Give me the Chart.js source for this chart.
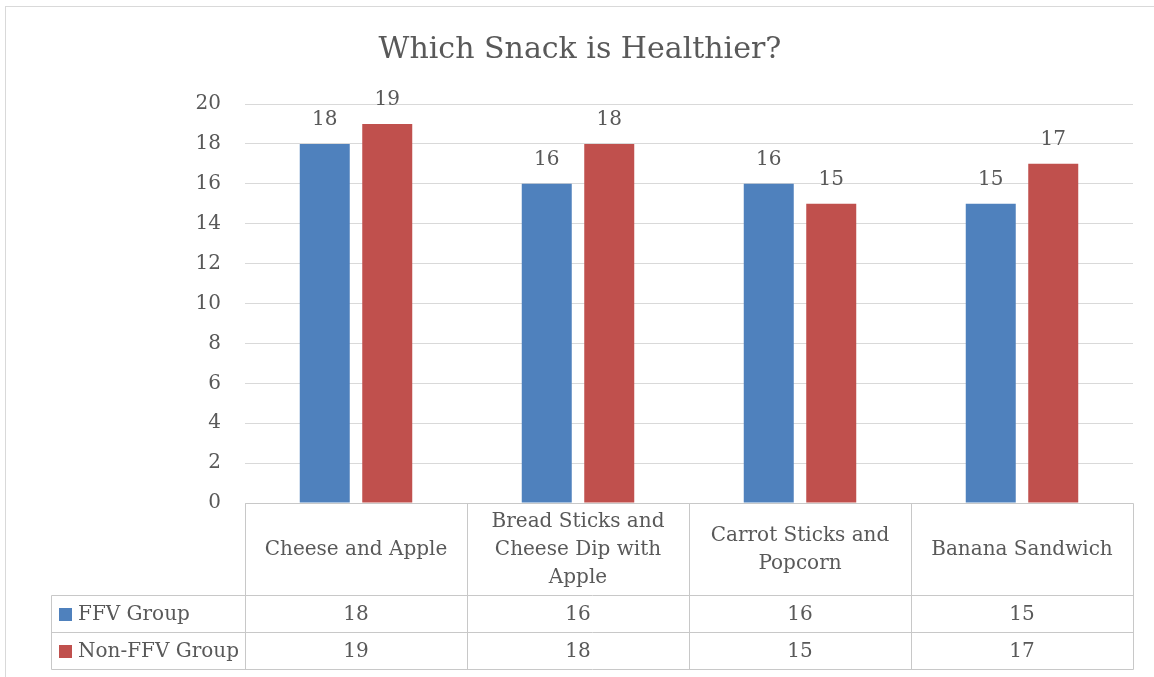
<!DOCTYPE html>
<html>
<head>
<meta charset="utf-8">
<script src="https://cdn.jsdelivr.net/npm/chart.js@4/dist/chart.umd.min.js"></script>
<style>
  html, body { margin: 0; padding: 0; background: #fff; }
  #wrap { width: 1154px; height: 677px; }
</style>
</head>
<body>
<div id="wrap"><canvas id="c" width="1154" height="677"></canvas></div>
<script>
const chartTitle = 'Which Snack is Healthier?';
const categories = ['Cheese and Apple', 'Bread Sticks and Cheese Dip with Apple', 'Carrot Sticks and Popcorn', 'Banana Sandwich'];
const seriesNames = ['FFV Group', 'Non-FFV Group'];
const ffvValues = [18, 16, 16, 15];
const nonFfvValues = [19, 18, 15, 17];
const yTicks = [0, 2, 4, 6, 8, 10, 12, 14, 16, 18, 20];
const seriesColors = ['#4F81BD', '#C0504D'];

const FONT = "'DejaVu Serif', 'Liberation Serif', serif";
const TEXT = '#595959';
const GRID = '#D9D9D9';
const TABLE_LINE = '#C8C8C8';

function wrapText(ctx, text, maxW) {
  const words = text.split(' ');
  const lines = [];
  let cur = '';
  for (const w of words) {
    const t = cur ? cur + ' ' + w : w;
    if (ctx.measureText(t).width > maxW && cur) { lines.push(cur); cur = w; }
    else cur = t;
  }
  if (cur) lines.push(cur);
  return lines;
}

const framePlugin = {
  id: 'frame',
  beforeDraw(chart) {
    const ctx = chart.ctx;
    ctx.save();
    ctx.fillStyle = '#fff';
    ctx.fillRect(0, 0, chart.width, chart.height);
    ctx.strokeStyle = GRID;
    ctx.lineWidth = 1;
    ctx.strokeRect(5.5, 6.5, chart.width + 10, chart.height + 10);
    // title
    ctx.font = '30px ' + FONT;
    ctx.fillStyle = TEXT;
    ctx.textAlign = 'center';
    ctx.textBaseline = 'middle';
    ctx.fillText(chartTitle, 580, 50);
    ctx.restore();
  }
};

const valueLabels = {
  id: 'valueLabels',
  afterDatasetsDraw(chart) {
    const ctx = chart.ctx;
    ctx.save();
    ctx.font = '20px ' + FONT;
    ctx.fillStyle = TEXT;
    ctx.textAlign = 'center';
    ctx.textBaseline = 'middle';
    chart.data.datasets.forEach((ds, di) => {
      chart.getDatasetMeta(di).data.forEach((bar, i) => {
        ctx.fillText(String(ds.data[i]), bar.x, bar.y - 24);
      });
    });
    ctx.restore();
  }
};

const dataTable = {
  id: 'dataTable',
  afterDraw(chart) {
    const ctx = chart.ctx;
    const area = chart.chartArea;
    const xs = chart.scales.x;
    const n = categories.length;
    const colW = (area.right - area.left) / n;
    const top = area.bottom;
    const headH = 92, rowH = 37;
    const legendLeft = 51;
    const row1 = top + headH, row2 = row1 + rowH, row3 = row2 + rowH;
    ctx.save();
    ctx.strokeStyle = TABLE_LINE;
    ctx.lineWidth = 1;
    const line = (x1, y1, x2, y2) => {
      ctx.beginPath();
      ctx.moveTo(Math.round(x1) + 0.5, Math.round(y1) + 0.5);
      ctx.lineTo(Math.round(x2) + 0.5, Math.round(y2) + 0.5);
      ctx.stroke();
    };
    line(area.left, top, area.right, top);
    line(legendLeft, row1, area.right, row1);
    line(legendLeft, row2, area.right, row2);
    line(legendLeft, row3, area.right, row3);
    line(legendLeft, row1, legendLeft, row3);
    for (let i = 0; i <= n; i++) {
      const x = area.left + i * colW;
      line(x, top, x, row3);
    }
    ctx.font = '20px ' + FONT;
    ctx.fillStyle = TEXT;
    ctx.textAlign = 'center';
    ctx.textBaseline = 'middle';
    const lh = 28;
    categories.forEach((c, i) => {
      const cx = xs.getPixelForValue(i);
      const lines = wrapText(ctx, c, colW - 16);
      const startY = top + headH / 2 + 1 - (lines.length - 1) * lh / 2;
      lines.forEach((l, k) => ctx.fillText(l, cx, startY + k * lh));
    });
    const rows = [ffvValues, nonFfvValues];
    rows.forEach((vals, r) => {
      const cy = row1 + rowH * r + rowH / 2 + 1;
      ctx.fillStyle = seriesColors[r];
      ctx.fillRect(legendLeft + 8, Math.round(cy - 6.5), 13, 13);
      ctx.fillStyle = TEXT;
      ctx.textAlign = 'left';
      ctx.fillText(seriesNames[r], legendLeft + 27, cy);
      ctx.textAlign = 'center';
      vals.forEach((v, i) => ctx.fillText(String(v), xs.getPixelForValue(i), cy));
    });
    ctx.restore();
  }
};

new Chart(document.getElementById('c'), {
  type: 'bar',
  data: {
    labels: categories,
    datasets: [
      { label: seriesNames[0], data: ffvValues, backgroundColor: seriesColors[0], borderWidth: 0 },
      { label: seriesNames[1], data: nonFfvValues, backgroundColor: seriesColors[1], borderWidth: 0 }
    ]
  },
  options: {
    responsive: false,
    animation: false,
    devicePixelRatio: 1,
    categoryPercentage: 0.563,
    barPercentage: 0.8,
    layout: { padding: { left: 0, right: 21, top: 104, bottom: 174 } },
    plugins: {
      legend: { display: false },
      tooltip: { enabled: false },
      title: { display: false }
    },
    scales: {
      x: { display: false },
      y: {
        min: 0, max: 20,
        afterFit(scale) { scale.width = 245; },
        afterBuildTicks(scale) { scale.ticks = yTicks.map(v => ({ value: v })); },
        grid: { color: GRID, drawTicks: false },
        border: { display: false },
        ticks: { color: TEXT, font: { family: FONT, size: 20 }, padding: 24 }
      }
    }
  },
  plugins: [framePlugin, valueLabels, dataTable]
});
</script>
</body>
</html>
